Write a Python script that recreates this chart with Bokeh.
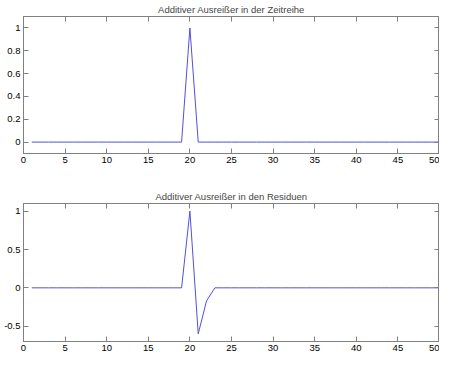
from bokeh.plotting import figure
from bokeh.layouts import column
from bokeh.models import LinearAxis, FixedTicker, Range1d
from bokeh.embed import file_html
from bokeh.resources import INLINE

# ---- data ----
t = list(range(1, 51))
series_top = [0.0] * 19 + [1.0] + [0.0] * 30
series_bottom = [0.0] * 19 + [1.0, -0.6, -0.17] + [0.0] * 28

title_top = "Additiver Ausreißer in der Zeitreihe"
title_bottom = "Additiver Ausreißer in den Residuen"
x_ticks = [0, 5, 10, 15, 20, 25, 30, 35, 40, 45, 50]
y_ticks_top = [0, 0.2, 0.4, 0.6, 0.8, 1]
y_labels_top = ["0", "0.2", "0.4", "0.6", "0.8", "1"]
y_ticks_bottom = [-0.5, 0, 0.5, 1]
y_labels_bottom = ["-0.5", "0", "0.5", "1"]

FONT = "Liberation Sans"
GRAY = "#808080"
LINE = "#5050dc"


def style_axis(ax, labels=True):
    ax.axis_line_color = GRAY
    ax.major_tick_line_color = GRAY
    ax.major_tick_in = 5
    ax.major_tick_out = 0
    ax.minor_tick_line_color = None
    ax.major_label_text_font = FONT
    ax.major_label_text_font_size = "9.5px"
    ax.major_label_text_color = "black"
    ax.major_label_standoff = 3
    if not labels:
        ax.major_label_text_font_size = "0px"
        ax.major_label_text_color = None
        ax.major_label_standoff = 0


def make(title, ys, yticks, ylabels, yr, height, top, bottom):
    p = figure(width=439, height=height, output_backend="svg", toolbar_location=None,
               x_range=Range1d(0, 50), y_range=Range1d(*yr),
               x_axis_location=None, y_axis_location=None,
               min_border_left=23, min_border_right=0,
               min_border_top=top, min_border_bottom=bottom)
    p.title.text = title
    p.title.align = "center"
    p.title.text_font = FONT
    p.title.text_font_size = "9.5px"
    p.title.text_font_style = "normal"
    p.title.standoff = 3
    p.xgrid.visible = False
    p.ygrid.visible = False
    p.outline_line_color = GRAY
    p.background_fill_color = "white"
    p.border_fill_color = "white"

    xt = FixedTicker(ticks=x_ticks)
    yt = FixedTicker(ticks=yticks)
    overrides = {v: s for v, s in zip(yticks, ylabels)}

    xb = LinearAxis(ticker=xt)
    style_axis(xb)
    p.add_layout(xb, "below")
    xa = LinearAxis(ticker=xt)
    style_axis(xa, labels=False)
    p.add_layout(xa, "above")
    yl = LinearAxis(ticker=yt, major_label_overrides=overrides)
    style_axis(yl)
    p.add_layout(yl, "left")
    yr_ax = LinearAxis(ticker=yt)
    style_axis(yr_ax, labels=False)
    p.add_layout(yr_ax, "right")

    p.line(t, ys, line_color=LINE, line_width=1)
    return p


p1 = make(title_top, series_top, y_ticks_top, y_labels_top, (-0.1, 1.1), 171, 15, 18)
p2 = make(title_bottom, series_bottom, y_ticks_bottom, y_labels_bottom, (-0.7, 1.1), 185, 32, 15)

layout = column(p1, p2, spacing=0)
open("out.html", "w").write(file_html(layout, INLINE))
